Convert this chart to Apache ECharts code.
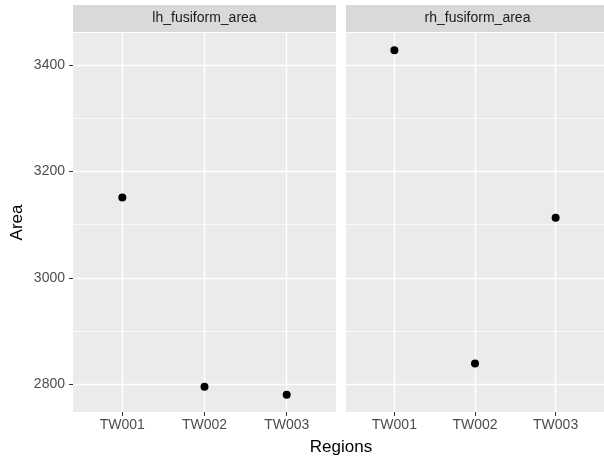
<!DOCTYPE html>
<html>
<head>
<meta charset="utf-8">
<script src="https://cdn.jsdelivr.net/npm/echarts@6/dist/echarts.min.js"></script>
<style>html,body{margin:0;padding:0;background:#fff;}#c{width:604px;height:461px;}</style>
</head>
<body>
<div id="c"></div>
<script>
var categories = ['TW001', 'TW002', 'TW003'];
var panels = ['lh_fusiform_area', 'rh_fusiform_area'];
var lhValues = [3151, 2795, 2780];
var rhValues = [3428, 2839, 3113];
var yTicks = [2800, 3000, 3200, 3400];

var all = lhValues.concat(rhValues);
var dMin = Math.min.apply(null, all), dMax = Math.max.apply(null, all);
var pad = (dMax - dMin) * 0.05;
var yMin = dMin - pad, yMax = dMax + pad;

var chart = echarts.init(document.getElementById('c'));
var font = 'Liberation Sans, Arial, sans-serif';
var grids = [
  {left: 73, top: 33, width: 263, height: 379, show: true, backgroundColor: '#EBEBEB', borderWidth: 0},
  {left: 346, top: 33, width: 263, height: 379, show: true, backgroundColor: '#EBEBEB', borderWidth: 0}
];
function xAxis(i) {
  return {
    type: 'value', gridIndex: i, min: 0.4, max: 3.6,
    axisLine: {show: false},
    axisTick: {show: true, customValues: [1, 2, 3], length: 4, lineStyle: {color: '#333333', width: 1}},
    axisLabel: {show: true, customValues: [1, 2, 3], color: '#4D4D4D', fontSize: 14, fontFamily: font, margin: 6,
      formatter: function (v) { return categories[Math.round(v) - 1] || ''; }},
    splitLine: {show: true, lineStyle: {color: '#FFFFFF', width: 1.4}},
    minorSplitLine: {show: false}
  };
}
function yAxis(i) {
  return {
    type: 'value', gridIndex: i, min: yMin, max: yMax, splitNumber: 3,
    name: i === 0 ? 'Area' : '', nameLocation: 'middle', nameGap: 47, nameRotate: 90,
    nameTextStyle: {color: '#000', fontSize: 17, fontFamily: font},
    axisLine: {show: false},
    axisTick: {show: i === 0, customValues: yTicks, length: 4, lineStyle: {color: '#333333', width: 1}},
    axisLabel: {show: i === 0, customValues: yTicks, color: '#4D4D4D', fontSize: 14, fontFamily: font, margin: 8,
      formatter: function (v) { return String(Math.round(v)); }},
    splitLine: {show: true, lineStyle: {color: '#FFFFFF', width: 1.4}},
    minorTick: {show: false, splitNumber: 2},
    minorSplitLine: {show: true, lineStyle: {color: '#FFFFFF', width: 0.7}}
  };
}
function pts(vals) { return vals.map(function (v, k) { return [k + 1, v]; }); }
var graphics = [];
[73, 346].forEach(function (x, i) {
  graphics.push({type: 'rect', left: x, top: 5, shape: {width: 263, height: 27}, style: {fill: '#D9D9D9'}, z: 0});
  graphics.push({type: 'text', x: x + 131.5, y: 18.5, style: {text: panels[i], fill: '#1A1A1A', font: '14px ' + font, textAlign: 'center', textVerticalAlign: 'middle'}});
});
graphics.push({type: 'text', x: 341, y: 447, style: {text: 'Regions', fill: '#000', font: '17px ' + font, textAlign: 'center', textVerticalAlign: 'middle'}});

chart.setOption({
  animation: false,
  backgroundColor: '#FFFFFF',
  grid: grids,
  xAxis: [xAxis(0), xAxis(1)],
  yAxis: [yAxis(0), yAxis(1)],
  graphic: graphics,
  series: [
    {type: 'scatter', xAxisIndex: 0, yAxisIndex: 0, data: pts(lhValues), symbolSize: 8, itemStyle: {color: '#000', opacity: 1}},
    {type: 'scatter', xAxisIndex: 1, yAxisIndex: 1, data: pts(rhValues), symbolSize: 8, itemStyle: {color: '#000', opacity: 1}}
  ]
});
</script>
</body>
</html>
